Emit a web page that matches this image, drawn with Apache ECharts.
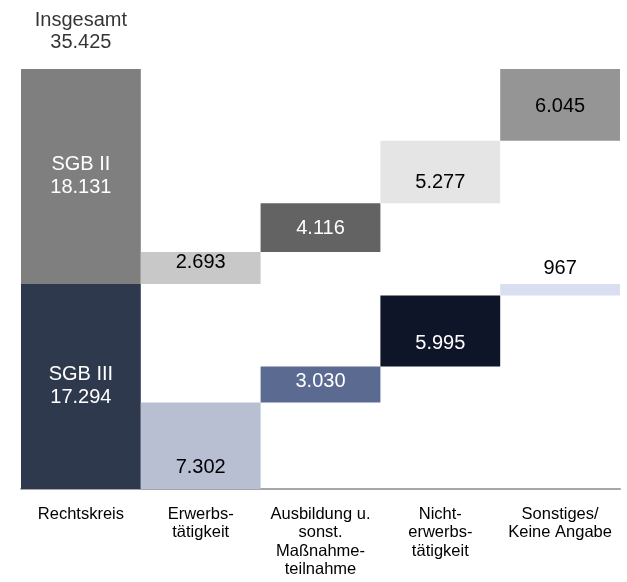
<!DOCTYPE html>
<html>
<head>
<meta charset="utf-8">
<script src="https://cdn.jsdelivr.net/npm/echarts@6/dist/echarts.min.js"></script>
<style>
  html, body { margin: 0; padding: 0; background: #fff; }
  #chart { width: 627px; height: 582px; }
</style>
</head>
<body>
<div id="chart"></div>
<script>
// data
var categories = ['Rechtskreis', 'Erwerbs-\ntätigkeit', 'Ausbildung u.\nsonst.\nMaßnahme-\nteilnahme', 'Nicht-\nerwerbs-\ntätigkeit', 'Sonstiges/\nKeine Angabe'];
var sgb3Values = [17294, 7302, 3030, 5995, 967];
var sgb2Values = [18131, 2693, 4116, 5277, 6045];
var totalValue = 35425;

var sgb3Colors = ['#2f394e', '#b8bfd3', '#5b6a91', '#0f1529', '#d9dff0'];
var sgb2Colors = ['#7f7f7f', '#c8c8c8', '#636363', '#e5e5e5', '#959595'];

var font = 'Arial, "Liberation Sans", sans-serif';

function fmt(v) {
    return String(v).replace(/\B(?=(\d{3})+(?!\d))/g, '.');
}

// waterfall offsets, computed from the values
var lowerBase = [];
var gap = [];
var runLower = 0;
var runUpper = sgb3Values[0];
for (var i = 0; i < categories.length; i++) {
    if (i === 0) {
        lowerBase.push(0);
        gap.push(0);
    } else {
        lowerBase.push(runLower);
        gap.push(runUpper - runLower - sgb3Values[i]);
        runLower += sgb3Values[i];
        runUpper += sgb2Values[i];
    }
}

// label placement per column (lower / upper part)
var lowerLabel = [
    { position: 'inside', color: '#fff', prefix: 'SGB III\n' },
    { position: 'insideBottom', distance: 10, color: '#000' },
    { position: 'inside', offset: [0, -3], color: '#fff' },
    { position: 'inside', offset: [0, 13], color: '#fff' },
    { position: 'top', distance: 4, color: '#000' }
];
var upperLabel = [
    { position: 'inside', color: '#fff', prefix: 'SGB II\n' },
    { position: 'inside', offset: [0, -6], color: '#000' },
    { position: 'inside', offset: [0, 1], color: '#fff' },
    { position: 'inside', offset: [0, 11], color: '#000' },
    { position: 'inside', offset: [0, 2], color: '#000' }
];

function buildItems(values, colors, labels) {
    return values.map(function (v, idx) {
        var l = labels[idx];
        return {
            value: v,
            itemStyle: { color: colors[idx] },
            label: {
                show: true,
                position: l.position,
                distance: l.distance || 5,
                offset: l.offset || [0, 0],
                color: l.color,
                fontSize: 20,
                lineHeight: 23,
                fontFamily: font,
                formatter: (l.prefix || '') + fmt(v)
            }
        };
    });
}

var chartDom = document.getElementById('chart');
var myChart = echarts.init(chartDom);
var option;

option = {
    animation: false,
    grid: { left: 21, right: 7, top: 69, bottom: 93 },
    xAxis: {
        type: 'category',
        data: categories,
        axisLine: { lineStyle: { color: '#a6a6a6', width: 2 } },
        axisTick: { show: false },
        axisLabel: {
            interval: 0,
            margin: 16,
            color: '#000',
            fontSize: 16.5,
            lineHeight: 18.5,
            fontFamily: font
        }
    },
    yAxis: {
        type: 'value',
        min: 0,
        max: totalValue,
        show: false,
        splitLine: { show: false }
    },
    series: [
        {
            name: 'base',
            type: 'bar',
            stack: 'w',
            barCategoryGap: 0,
            silent: true,
            itemStyle: { color: 'transparent' },
            data: lowerBase
        },
        {
            name: 'SGB III',
            type: 'bar',
            stack: 'w',
            data: buildItems(sgb3Values, sgb3Colors, lowerLabel)
        },
        {
            name: 'gap',
            type: 'bar',
            stack: 'w',
            silent: true,
            itemStyle: { color: 'transparent' },
            data: gap
        },
        {
            name: 'SGB II',
            type: 'bar',
            stack: 'w',
            data: buildItems(sgb2Values, sgb2Colors, upperLabel)
        },
        {
            name: 'Insgesamt',
            type: 'scatter',
            symbolSize: 1,
            itemStyle: { color: 'transparent' },
            data: [[categories[0], totalValue]],
            label: {
                show: true,
                position: 'top',
                distance: 15,
                color: '#000',
                fontSize: 20,
                lineHeight: 22,
                fontFamily: font,
                formatter: 'Insgesamt\n' + fmt(totalValue)
            }
        }
    ]
};

option && myChart.setOption(option);
</script>
</body>
</html>
